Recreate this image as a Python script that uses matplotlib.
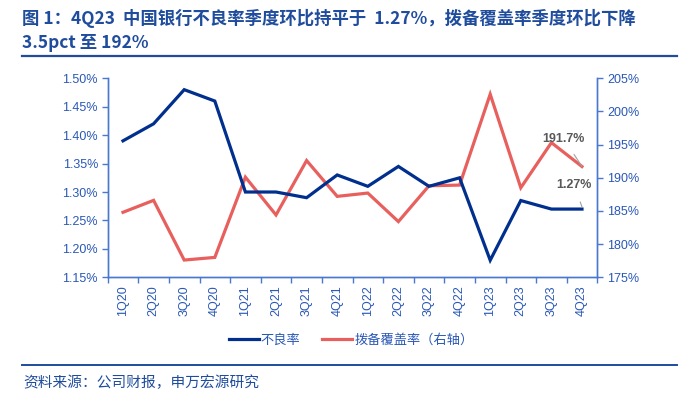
import matplotlib
matplotlib.use("Agg")
import matplotlib.pyplot as plt
from matplotlib.lines import Line2D

plt.rcParams['font.family'] = ['Liberation Sans', 'Noto Sans CJK SC', 'DejaVu Sans']

quarters = ["1Q20", "2Q20", "3Q20", "4Q20", "1Q21", "2Q21", "3Q21", "4Q21",
            "1Q22", "2Q22", "3Q22", "4Q22", "1Q23", "2Q23", "3Q23", "4Q23"]
npl_ratio = [1.39, 1.42, 1.48, 1.46, 1.30, 1.30, 1.29, 1.33,
             1.31, 1.345, 1.31, 1.325, 1.18, 1.285, 1.27, 1.27]
coverage = [184.8, 186.6, 177.6, 178.0, 190.1, 184.4, 192.6, 187.2,
            187.7, 183.4, 188.8, 188.9, 202.6, 188.5, 195.3, 191.7]
left_ticks = [1.15, 1.20, 1.25, 1.30, 1.35, 1.40, 1.45, 1.50]
right_ticks = [175, 180, 185, 190, 195, 200, 205]

NAVY = "#002F8E"
RED = "#E8605E"
AXC = "#4A78D0"
TXT = "#2A58B5"
TITLE = "#1F4C9C"
CJK = ['Noto Sans CJK SC', 'DejaVu Sans']

fig = plt.figure(figsize=(7.0, 3.98), dpi=100)

# title
fig.text(22/700, 1-18.5/398, "图 1：4Q23  中国银行不良率季度环比持平于  1.27%，拨备覆盖率季度环比下降",
         family=CJK, fontsize=12.5, fontweight='bold', color=TITLE, va='center', ha='left')
fig.text(22/700, 1-43.5/398, "3.5pct 至 192%",
         family=CJK, fontsize=12.5, fontweight='bold', color=TITLE, va='center', ha='left')
fig.add_artist(Line2D([22/700, 677/700], [1-56/398, 1-56/398], color=TITLE, lw=1.6))
fig.add_artist(Line2D([22/700, 677/700], [1-364.5/398, 1-364.5/398], color=TITLE, lw=1.4))
fig.text(23/700, 1-383/398, "资料来源：公司财报，申万宏源研究",
         family=CJK, fontsize=10.6, color=TITLE, va='center', ha='left')

left, bottom = 107.7/700, 1-277.3/398
width, height = (597.3-107.7)/700, (277.3-78.3)/398
ax = fig.add_axes([left, bottom, width, height])
ax2 = ax.twinx()

x = list(range(len(quarters)))
l1, = ax.plot(x, npl_ratio, color=NAVY, lw=2.3, label="不良率", solid_joinstyle='miter')
l2, = ax2.plot(x, coverage, color=RED, lw=2.3, label="拨备覆盖率（右轴）", solid_joinstyle='miter')
ax.set_zorder(ax2.get_zorder()+1)
ax.patch.set_visible(False)

ax.set_xlim(-0.5, len(quarters)-0.5)
ax.set_ylim(1.15, 1.50)
ax2.set_ylim(175, 205)

ax.set_yticks(left_ticks)
ax.set_yticklabels([f"{v:.2f}%" for v in left_ticks])
ax2.set_yticks(right_ticks)
ax2.set_yticklabels([f"{v}%" for v in right_ticks])

ax.set_xticks(x)
ax.set_xticklabels(quarters, rotation=90)
ax.set_xticks([i-0.5 for i in range(len(quarters)+1)], minor=True)
ax.tick_params(axis='x', which='major', length=0, pad=6, labelsize=9, labelcolor=TXT)
ax.tick_params(axis='x', which='minor', length=4, color=AXC, width=1)
ax.tick_params(axis='y', length=4, color=AXC, width=1, labelsize=9, labelcolor=TXT, pad=3)
ax2.tick_params(axis='y', length=4, color=AXC, width=1, labelsize=9, labelcolor=TXT, pad=3)

for a in (ax, ax2):
    a.spines['top'].set_visible(False)
    for s in ('left', 'right', 'bottom'):
        a.spines[s].set_color(AXC)
        a.spines[s].set_linewidth(1.0)

# annotations
ax2.annotate(f"{coverage[-1]:.1f}%", xy=(x[-1], coverage[-1]), xytext=(x[-1]-0.6, 195.9),
             fontsize=9, fontweight='bold', color="#595959", ha='center', va='center',
             arrowprops=dict(arrowstyle='-', color='#A0A0A0', lw=0.8, shrinkA=6, shrinkB=0))
ax.annotate(f"{npl_ratio[-1]:.2f}%", xy=(x[-1], 1.2736), xytext=(x[-1]-0.25, 1.3117),
            fontsize=9, fontweight='bold', color="#595959", ha='center', va='center',
            arrowprops=dict(arrowstyle='-', color='#A0A0A0', lw=0.8, shrinkA=6, shrinkB=0))

leg = fig.legend(handles=[l1, l2], loc='center', bbox_to_anchor=(351/700, 1-340/398), ncol=2,
                 frameon=False, handlelength=2.3, handletextpad=0.15, columnspacing=1.6,
                 prop={'family': CJK, 'size': 9.5})
for t in leg.get_texts():
    t.set_color(TXT)

fig.savefig("out.png", dpi=100)
